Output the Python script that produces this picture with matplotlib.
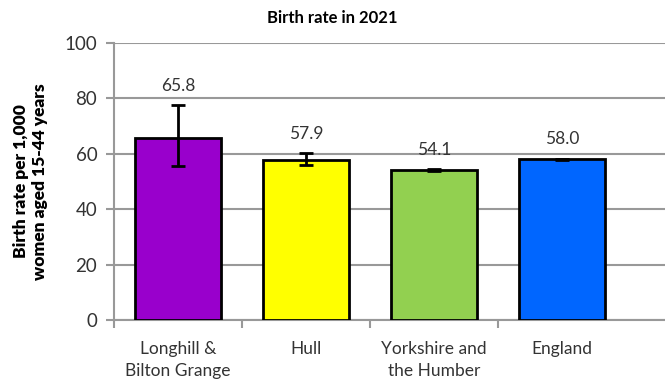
import numpy as np
import matplotlib.pyplot as plt

plt.rcParams['font.family'] = ['Lato', 'DejaVu Sans']

areas = ['Longhill &\nBilton Grange', 'Hull', 'Yorkshire and\nthe Humber', 'England']
rates = [65.8, 57.9, 54.1, 58.0]
ci_low = [55.6, 56.0, 53.7, 57.7]
ci_high = [77.5, 60.2, 54.6, 58.3]
colours = ['#9900cc', '#ffff00', '#92d050', '#0066ff']

grey = '#999999'

fig = plt.figure(figsize=(6.65, 3.87), dpi=100)
ax = fig.add_axes([114 / 665, 67 / 387, 1 - 114 / 665, 277 / 387])

x = np.arange(len(areas))
rates = np.array(rates)
yerr = [rates - np.array(ci_low), np.array(ci_high) - rates]

ax.bar(x, rates, width=0.67, color=colours, edgecolor='black', linewidth=2, zorder=3)
ax.errorbar(x, rates, yerr=yerr, fmt='none', ecolor='black', elinewidth=2,
            capsize=5, capthick=2, zorder=4)

for xi, v, top in zip(x, rates, ci_high):
    ax.annotate(f'{v:.1f}', (xi, max(v, top)), xytext=(0, 8), textcoords='offset points',
                ha='center', va='bottom', fontsize=12.5, color='#333333')

ax.set_ylim(0, 100)
ax.set_yticks(np.arange(0, 101, 20))
ax.set_xlim(-0.5, -0.5 + (665 - 114) / 128)
ax.set_xticks(np.arange(-0.5, 3.0, 1.0))
ax.set_xticklabels([])
ax.set_xticks(x, minor=True)
ax.set_xticklabels(areas, minor=True, fontsize=12.5, color='#333333', linespacing=1.5)
ax.tick_params(axis='x', which='minor', length=0, pad=15)
ax.tick_params(axis='x', which='major', length=6, width=1.5, color=grey, direction='out')
ax.tick_params(axis='y', length=6, width=1.5, color=grey, labelsize=13.5, labelcolor='#333333', pad=6)

ax.grid(axis='y', color=grey, linewidth=1.5, zorder=0)
for side in ['top', 'right']:
    ax.spines[side].set_visible(False)
for side in ['left', 'bottom']:
    ax.spines[side].set_color(grey)
    ax.spines[side].set_linewidth(1.5)

ax.set_ylabel('Birth rate per 1,000\nwomen aged 15-44 years', fontsize=12.5,
              fontweight='heavy', labelpad=12, linespacing=1.2)
fig.text(0.5, 0.953, 'Birth rate in 2021', ha='center', va='center',
         fontsize=12, fontweight='bold')

fig.savefig('out.png', dpi=100)
